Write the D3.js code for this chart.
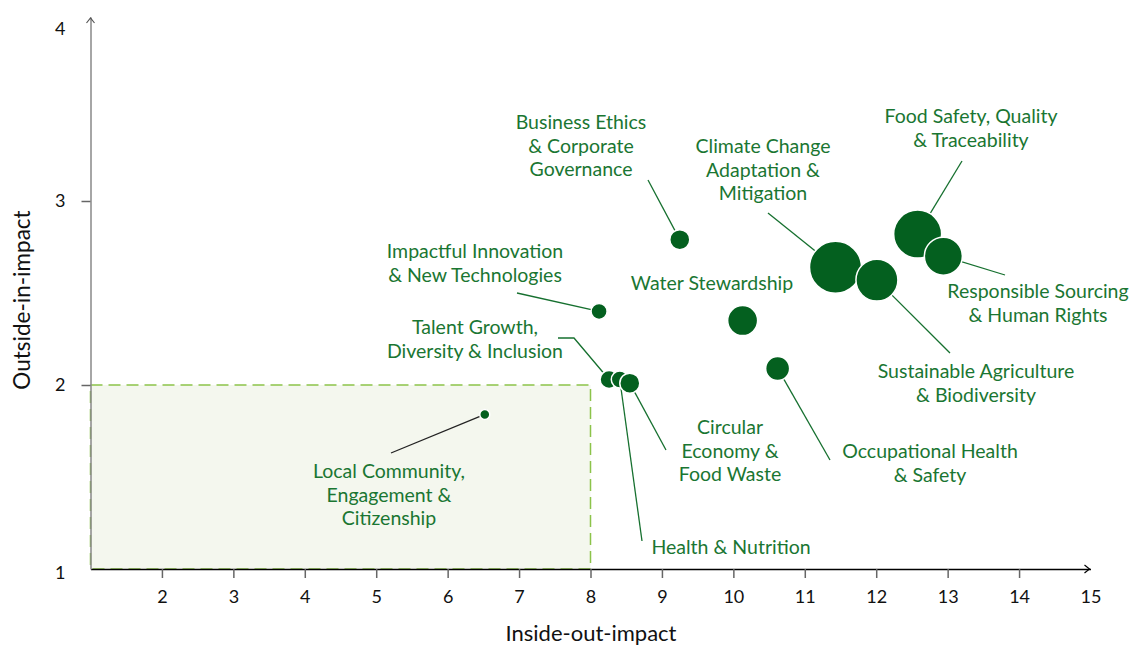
<!DOCTYPE html>
<html lang="en">
<head>
<script src="https://d3js.org/d3.v7.min.js"></script>
<style>
  body { margin: 0; background: #fff; }
  svg text { font-family: Lato, "Open Sans", sans-serif; }
</style>
</head>
<body>
<svg id="chart" width="1147" height="648"></svg>
<script>
// topics, inside-out (x), outside-in (y), relative weight (bubble area)
var topics = [
  "Local Community,\nEngagement &\nCitizenship",
  "Impactful Innovation\n& New Technologies",
  "Business Ethics\n& Corporate\nGovernance",
  "Talent Growth,\nDiversity & Inclusion",
  "Health & Nutrition",
  "Circular\nEconomy &\nFood Waste",
  "Water Stewardship",
  "Occupational Health\n& Safety",
  "Climate Change\nAdaptation &\nMitigation",
  "Sustainable Agriculture\n& Biodiversity",
  "Food Safety, Quality\n& Traceability",
  "Responsible Sourcing\n& Human Rights"
]
var insideOut  = [6.52, 8.12, 9.25, 8.26, 8.41, 8.55, 10.13, 10.62, 11.43, 12.01, 12.58, 12.94]
var outsideIn  = [1.84, 2.40, 2.79, 2.03, 2.03, 2.01, 2.35, 2.09, 2.64, 2.57, 2.82, 2.70]
var weight     = [3.7, 9.5, 14.8, 12, 10.7, 14.8, 33.3, 21.3, 100, 65.2, 85.2, 53.4]

var xTicks = [2,3,4,5,6,7,8,9,10,11,12,13,14,15]
var yTicks = [1,2,3,4]
var zoneX = [1, 8], zoneY = [1, 2]

// label placement: text centre x, first line y, leader start (null = none), elbow
var labelLayout = [
  {x: 389, y: 471, from: [391, 453]},
  {x: 475, y: 251, from: [517, 293]},
  {x: 581, y: 122, from: [648, 180]},
  {x: 475, y: 327, from: [558, 338], elbow: [574, 338]},
  {x: 731, y: 547, from: [642, 541]},
  {x: 730, y: 427, from: [666, 450]},
  {x: 712, y: 283, from: null},
  {x: 930, y: 451, from: [830, 460]},
  {x: 763, y: 146, from: [768, 213]},
  {x: 976, y: 371, from: [950, 353]},
  {x: 971, y: 116, from: [962, 161]},
  {x: 1038, y: 291, from: [1005, 275]}
]

var textGreen = "#1a7632", bubbleGreen = "#04601f", lineGreen = "#16702f"

var svg = d3.select("#chart")
var x = d3.scaleLinear().domain([1, 15]).range([90.5, 1090.5])
var y = d3.scaleLinear().domain([1, 4]).range([569, 17])
var r = d3.scaleSqrt().domain([0, 100]).range([0, 26])

// shaded low-impact zone
svg.append("rect")
  .attr("x", x(zoneX[0])).attr("y", y(zoneY[1]))
  .attr("width", x(zoneX[1]) - x(zoneX[0])).attr("height", y(zoneY[0]) - y(zoneY[1]))
  .attr("fill", "#f4f7ee")
  .attr("stroke", "#8cc34a").attr("stroke-width", 1.5).attr("stroke-dasharray", "12,6")

// axes
var xAxis = svg.append("g").attr("transform", "translate(0," + y(1) + ")")
  .call(d3.axisBottom(x).tickValues(xTicks).tickSize(9).tickSizeOuter(0).tickPadding(12))
xAxis.select(".domain").attr("stroke", "#000").attr("stroke-width", 1.5)
xAxis.selectAll(".tick line").attr("stroke", "#666").attr("stroke-width", 1.5)
xAxis.selectAll(".tick").filter(d => d == 15).select("line").remove()
xAxis.selectAll(".tick text").attr("font-size", 18).attr("fill", "#111")
  .attr("font-family", "Lato, sans-serif")

var yAxis = svg.append("g").attr("transform", "translate(" + x(1) + ",0)")
  .call(d3.axisLeft(y).tickValues(yTicks).tickFormat(d3.format("d")).tickSize(9).tickSizeOuter(0).tickPadding(16))
yAxis.select(".domain").attr("stroke", "#888").attr("stroke-width", 1.5)
yAxis.selectAll(".tick line").attr("stroke", "#666").attr("stroke-width", 1.5)
yAxis.selectAll(".tick").filter(d => d == 1 || d == 4).select("line").remove()
yAxis.selectAll(".tick").filter(d => d == 1).select("text").attr("dy", "0.5em")
yAxis.selectAll(".tick").filter(d => d == 4).select("text").attr("dy", "0.95em")
yAxis.selectAll(".tick text").attr("font-size", 18).attr("fill", "#111")
  .attr("font-family", "Lato, sans-serif")

// axis arrows
svg.append("path").attr("d", "M" + (x(1) - 4) + "," + (y(4) + 6) + "L" + x(1) + "," + (y(4) + 1) + "L" + (x(1) + 4) + "," + (y(4) + 6))
  .attr("fill", "none").attr("stroke", "#555").attr("stroke-width", 1.2)
svg.append("path").attr("d", "M" + (x(15) - 6) + "," + (y(1) - 4) + "L" + (x(15) - 1) + "," + y(1) + "L" + (x(15) - 6) + "," + (y(1) + 4))
  .attr("fill", "none").attr("stroke", "#000").attr("stroke-width", 1.2)

// axis titles
svg.append("text").attr("x", 591).attr("y", 641).attr("text-anchor", "middle")
  .attr("font-size", 22).attr("fill", "#111").text("Inside-out-impact")
svg.append("text").attr("transform", "translate(30,300) rotate(-90)").attr("text-anchor", "middle")
  .attr("font-size", 22.5).attr("fill", "#111").text("Outside-in-impact")

// leader lines
var leaders = svg.append("g")
topics.forEach(function (t, i) {
  var L = labelLayout[i]
  if (!L.from) return
  var pts = [L.from]
  if (L.elbow) pts.push(L.elbow)
  pts.push([x(insideOut[i]), y(outsideIn[i])])
  leaders.append("path").attr("d", d3.line()(pts))
    .attr("fill", "none")
    .attr("stroke", i == 0 ? "#222" : lineGreen)
    .attr("stroke-width", 1.3)
})

// bubbles
svg.append("g").selectAll("circle")
  .data(topics.map((t, i) => i))
  .join("circle")
  .attr("cx", i => x(insideOut[i]))
  .attr("cy", i => y(outsideIn[i]))
  .attr("r", i => r(weight[i]))
  .attr("fill", bubbleGreen)
  .attr("stroke", "#fff").attr("stroke-width", 1.5)

// labels
var labels = svg.append("g").selectAll("text")
  .data(topics.map((t, i) => i))
  .join("text")
  .attr("x", i => labelLayout[i].x)
  .attr("y", i => labelLayout[i].y)
  .attr("text-anchor", "middle")
  .attr("font-size", 19.5)
  .attr("fill", textGreen)
labels.selectAll("tspan")
  .data(i => topics[i].split("\n").map(s => ({s: s, i: i})))
  .join("tspan")
  .attr("x", d => labelLayout[d.i].x)
  .attr("dy", (d, k) => k == 0 ? "0.35em" : 23.8)
  .text(d => d.s)
</script>
</body>
</html>
